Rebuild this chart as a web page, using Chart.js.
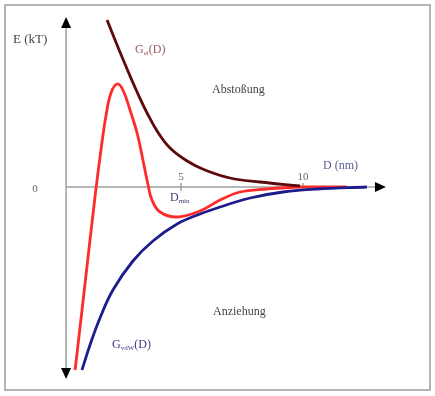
<!DOCTYPE html>
<html>
<head>
<meta charset="utf-8">
<script src="https://cdn.jsdelivr.net/npm/chart.js@4.4.1/dist/chart.umd.min.js"></script>
<style>
  html, body { margin: 0; padding: 0; background: #fff; }
  #wrap { width: 435px; height: 396px; }
</style>
</head>
<body>
<div id="wrap"><canvas id="dlvo" width="435" height="396"></canvas></div>
<script>
// D in nm, E in kT (arbitrary scale as in the sketch)
const elD = [1.97, 2.38, 2.79, 3.20, 3.61, 4.02, 4.55, 5.25, 5.98, 7.01, 8.24, 9.88];
const elE = [16.7, 14.2, 11.8, 9.5, 7.4, 5.6, 3.9, 2.6, 1.7, 0.9, 0.5, 0.1];

const totD = [0.66, 1.07, 1.48, 1.72, 1.93, 2.13, 2.38, 2.62, 2.91, 3.20, 3.44, 3.65, 3.81, 4.14, 4.84, 5.78, 6.60, 7.42, 8.52, 9.88, 11.80];
const totE = [-18.3, -9.6, -0.9, 3.7, 7.2, 9.4, 10.3, 9.7, 7.7, 5.4, 2.7, 0.2, -1.3, -2.5, -3.0, -2.4, -1.3, -0.5, -0.2, 0, 0];

const vdwD = [0.94, 1.27, 1.68, 2.21, 3.03, 3.85, 4.84, 5.78, 6.60, 7.83, 9.18, 10.57, 12.62];
const vdwE = [-18.3, -15.8, -13.1, -10.3, -7.4, -5.4, -3.7, -2.7, -2.0, -1.1, -0.5, -0.2, 0];

const xTicks = [5, 10];

const toPoints = (xs, ys) => xs.map((x, i) => ({ x: x, y: ys[i] }));

const serif = '"Liberation Serif", "DejaVu Serif", serif';

const arrowHead = (ctx, x, y, dir) => {
    ctx.beginPath();
    if (dir === 'up') {
        ctx.moveTo(x, y); ctx.lineTo(x - 5, y + 11); ctx.lineTo(x + 5, y + 11);
    } else if (dir === 'down') {
        ctx.moveTo(x, y); ctx.lineTo(x - 5, y - 11); ctx.lineTo(x + 5, y - 11);
    } else {
        ctx.moveTo(x, y); ctx.lineTo(x - 11, y - 5); ctx.lineTo(x - 11, y + 5);
    }
    ctx.closePath();
    ctx.fillStyle = '#000';
    ctx.fill();
};

// frame, axes and ticks go under the curves
const sketchBack = {
    id: 'sketchBack',
    beforeDatasetsDraw(chart) {
        const ctx = chart.ctx;
        const xs = chart.scales.x, ys = chart.scales.y;
        ctx.save();
        ctx.fillStyle = '#fff';
        ctx.fillRect(0, 0, chart.width, chart.height);
        ctx.strokeStyle = '#b4b4b4';
        ctx.lineWidth = 2;
        ctx.strokeRect(5, 5, 425, 385);

        const ax = xs.getPixelForValue(0.29);
        const y0 = ys.getPixelForValue(0);
        ctx.strokeStyle = '#a0a0a0';
        ctx.lineWidth = 1.5;
        ctx.beginPath();
        ctx.moveTo(ax, ys.getPixelForValue(16.2));
        ctx.lineTo(ax, ys.getPixelForValue(-18.4));
        ctx.moveTo(ax, y0);
        ctx.lineTo(xs.getPixelForValue(13.0), y0);
        xTicks.forEach(t => {
            const px = xs.getPixelForValue(t);
            ctx.moveTo(px, y0 - 4);
            ctx.lineTo(px, y0 + 4);
        });
        ctx.stroke();

        ctx.fillStyle = '#666';
        ctx.font = '11px ' + serif;
        ctx.textAlign = 'center';
        ctx.textBaseline = 'middle';
        xTicks.forEach(t => ctx.fillText(String(t), xs.getPixelForValue(t), y0 - 10));
        ctx.fillText('0', 35, y0 + 2);
        ctx.restore();
    },
    afterDraw(chart) {
        const ctx = chart.ctx;
        const xs = chart.scales.x, ys = chart.scales.y;
        const ax = xs.getPixelForValue(0.29);
        const y0 = ys.getPixelForValue(0);
        ctx.save();
        arrowHead(ctx, ax, ys.getPixelForValue(17.0), 'up');
        arrowHead(ctx, ax, ys.getPixelForValue(-19.2), 'down');
        arrowHead(ctx, xs.getPixelForValue(13.4), y0, 'right');

        ctx.textAlign = 'left';
        ctx.textBaseline = 'middle';
        ctx.font = '13px ' + serif;
        ctx.fillStyle = '#444';
        ctx.fillText('E (kT)', 13, 40);
        ctx.font = '12px ' + serif;
        ctx.fillText('Abstoßung', 212, 90);
        ctx.fillText('Anziehung', 213, 312);
        ctx.fillStyle = '#5a5a96';
        ctx.fillText('D (nm)', 323, 166);

        const sub = (x, y, main, small, tail, color) => {
            ctx.fillStyle = color;
            ctx.font = '12px ' + serif;
            ctx.fillText(main, x, y);
            let w = ctx.measureText(main).width;
            ctx.font = '7px ' + serif;
            ctx.fillText(small, x + w, y + 3);
            w += ctx.measureText(small).width;
            ctx.font = '12px ' + serif;
            ctx.fillText(tail, x + w, y);
        };
        sub(135, 50, 'G', 'el', '(D)', '#9a5a5a');
        sub(112, 345, 'G', 'vdW', '(D)', '#3a3a8a');
        sub(170, 198, 'D', 'min', '', '#3a3a78');
        ctx.restore();
    }
};

const ctx = document.getElementById('dlvo').getContext('2d');
const line = (label, pts, colour) => ({
    label: label,
    data: pts,
    showLine: true,
    borderColor: colour,
    backgroundColor: colour,
    borderWidth: 2.8,
    pointRadius: 0,
    tension: 0.4,
    fill: false,
    clip: false,
});

const dlvoChart = new Chart(ctx, {
    type: 'scatter',
    data: {
        datasets: [
            line('G_vdW(D)', toPoints(vdwD, vdwE), '#1c1c8e'),
            line('G_el(D)', toPoints(elD, elE), '#5c0a0a'),
            line('G(D)', toPoints(totD, totE), '#ff2a2a'),
        ],
    },
    options: {
        responsive: false,
        animation: false,
        layout: { padding: { left: 59, right: 46.6, top: 17, bottom: 16 } },
        scales: {
            x: { type: 'linear', display: false, min: 0, max: 13.5 },
            y: { type: 'linear', display: false, min: -19.3, max: 17 },
        },
        plugins: { legend: { display: false }, tooltip: { enabled: false } },
    },
    plugins: [sketchBack],
});
</script>
</body>
</html>
